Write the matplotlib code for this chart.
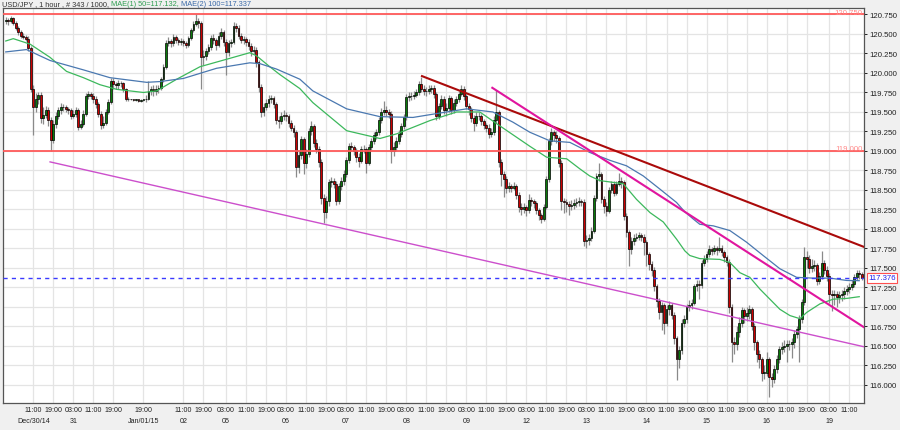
import matplotlib
matplotlib.use('Agg')
import matplotlib.pyplot as plt
from matplotlib.ticker import MultipleLocator, FormatStrFormatter
import numpy as np

plt.rcParams['font.family'] = ['Liberation Sans', 'DejaVu Sans']

# hourly USD/JPY bars (bar index 0 = Dec 30 00:00)
first_open = 120.66
closes = [
    120.68, 120.66, 120.70, 120.64, 120.58, 120.52, 120.48, 120.46, 120.44, 120.32,
    119.80, 119.56, 119.66, 119.72, 119.42, 119.46, 119.53, 119.40, 119.14, 119.35,
    119.45, 119.52, 119.56, 119.56, 119.54, 119.52, 119.45, 119.47, 119.52, 119.31,
    119.35, 119.48, 119.71, 119.73, 119.71, 119.67, 119.60, 119.48, 119.33, 119.36,
    119.50, 119.63, 119.90, 119.86, 119.84, 119.87, 119.87, 119.79, 119.67, 119.66,
    119.66, 119.65, 119.66, 119.64, 119.65, 119.66, 119.67, 119.77, 119.79, 119.77,
    119.79, 119.81, 119.92, 120.08, 120.39, 120.41, 120.38, 120.46, 120.42, 120.40,
    120.41, 120.38, 120.36, 120.45, 120.55, 120.63, 120.66, 120.64, 120.20, 120.22,
    120.28, 120.33, 120.45, 120.42, 120.36, 120.47, 120.52, 120.40, 120.27, 120.38,
    120.40, 120.60, 120.58, 120.48, 120.42, 120.43, 120.40, 120.35, 120.28, 120.30,
    120.14, 119.82, 119.50, 119.56, 119.62, 119.67, 119.68, 119.60, 119.40, 119.38,
    119.45, 119.46, 119.45, 119.36, 119.30, 119.24, 118.80, 118.95, 119.15, 118.84,
    118.96, 119.25, 119.32, 119.10, 119.03, 118.86, 118.40, 118.22, 118.36, 118.60,
    118.62, 118.58, 118.36, 118.55, 118.62, 118.70, 118.88, 119.07, 119.05, 119.00,
    118.92, 118.87, 119.03, 119.02, 118.85, 119.05, 119.13, 119.20, 119.24, 119.40,
    119.50, 119.52, 119.50, 119.48, 119.00, 119.05, 119.13, 119.22, 119.32, 119.43,
    119.69, 119.71, 119.70, 119.72, 119.75, 119.86, 119.80, 119.77, 119.77, 119.79,
    119.81, 119.73, 119.45, 119.58, 119.67, 119.52, 119.55, 119.68, 119.52, 119.62,
    119.67, 119.73, 119.79, 119.70, 119.58, 119.54, 119.42, 119.36, 119.45, 119.45,
    119.38, 119.33, 119.30, 119.22, 119.24, 119.40, 119.50, 118.86, 118.70, 118.64,
    118.52, 118.55, 118.53, 118.55, 118.44, 118.28, 118.26, 118.28, 118.24, 118.37,
    118.36, 118.33, 118.24, 118.18, 118.13, 118.28, 118.64, 119.13, 119.24, 119.20,
    119.16, 118.85, 118.36, 118.34, 118.32, 118.29, 118.31, 118.33, 118.35, 118.36,
    118.35, 117.84, 117.86, 117.88, 117.98, 118.40, 118.68, 118.70, 118.38, 118.30,
    118.23, 118.50, 118.58, 118.46, 118.58, 118.62, 118.60, 118.17, 117.96, 117.74,
    117.85, 117.88, 117.90, 117.92, 117.90, 117.83, 117.68, 117.55, 117.48, 117.27,
    117.08, 116.93, 117.02, 116.80, 116.98, 117.02, 116.90, 116.60, 116.33, 116.45,
    116.80, 116.85, 117.00, 117.02, 117.05, 117.27, 117.30, 117.28, 117.57, 117.62,
    117.68, 117.74, 117.72, 117.75, 117.73, 117.76, 117.70, 117.64, 117.58, 117.00,
    116.55, 116.52, 116.68, 116.80, 116.96, 116.88, 116.92, 116.98, 116.76, 116.55,
    116.40, 116.33, 116.16, 116.16, 116.33, 116.10, 116.08, 116.20, 116.33, 116.46,
    116.49, 116.50, 116.52, 116.52, 116.55, 116.66, 116.72, 116.85, 117.06, 117.64,
    117.62, 117.50, 117.52, 117.54, 117.33, 117.40, 117.56, 117.48, 117.40, 117.17,
    117.15, 117.17, 117.13, 117.15, 117.17, 117.21, 117.23, 117.26, 117.30, 117.38,
    117.44, 117.42, 117.376,
]
highs = [
    120.72, 120.71, 120.73, 120.72, 120.67, 120.60, 120.55, 120.51, 120.49, 120.47,
    120.35, 119.85, 119.74, 119.76, 119.75, 119.56, 119.58, 119.57, 119.43, 119.40,
    119.50, 119.56, 119.61, 119.60, 119.59, 119.57, 119.55, 119.52, 119.57, 119.55,
    119.40, 119.52, 119.74, 119.77, 119.76, 119.74, 119.70, 119.63, 119.51, 119.45,
    119.54, 119.66, 119.93, 119.93, 119.89, 119.91, 119.90, 119.89, 119.81, 119.69,
    119.67, 119.67, 119.67, 119.66, 119.66, 119.67, 119.72, 119.90, 119.83, 119.85,
    119.84, 119.85, 119.95, 120.11, 120.42, 120.46, 120.44, 120.50, 120.49, 120.45,
    120.45, 120.44, 120.41, 120.48, 120.58, 120.66, 120.76, 120.70, 120.67, 120.30,
    120.32, 120.37, 120.49, 120.50, 120.45, 120.53, 120.58, 120.55, 120.43, 120.42,
    120.44, 120.65, 120.64, 120.61, 120.51, 120.47, 120.46, 120.43, 120.38, 120.34,
    120.33, 120.17, 119.86, 119.62, 119.67, 119.72, 119.72, 119.71, 119.63, 119.45,
    119.50, 119.52, 119.50, 119.48, 119.40, 119.33, 119.27, 119.00, 119.19, 119.18,
    119.02, 119.29, 119.38, 119.34, 119.15, 119.07, 118.90, 118.45, 118.42, 118.64,
    118.66, 118.65, 118.62, 118.59, 118.67, 118.75, 118.92, 119.10, 119.11, 119.08,
    119.04, 118.97, 119.07, 119.08, 119.05, 119.09, 119.17, 119.24, 119.28, 119.44,
    119.55, 119.64, 119.58, 119.54, 119.51, 119.12, 119.18, 119.27, 119.36, 119.47,
    119.73, 119.76, 119.75, 119.77, 119.79, 119.90, 119.95, 119.84, 119.82, 119.84,
    119.85, 119.84, 119.76, 119.62, 119.72, 119.70, 119.62, 119.72, 119.70, 119.67,
    119.71, 119.77, 119.85, 119.83, 119.73, 119.62, 119.57, 119.46, 119.50, 119.50,
    119.48, 119.41, 119.36, 119.34, 119.30, 119.45, 119.78, 119.53, 118.90, 118.74,
    118.68, 118.60, 118.58, 118.60, 118.58, 118.47, 118.33, 118.33, 118.31, 118.45,
    118.41, 118.39, 118.36, 118.27, 118.21, 118.32, 118.68, 119.17, 119.30, 119.27,
    119.25, 119.19, 118.88, 118.40, 118.38, 118.36, 118.37, 118.38, 118.40, 118.41,
    118.39, 118.38, 117.92, 117.93, 118.03, 118.44, 118.72, 118.85, 118.73, 118.42,
    118.35, 118.54, 118.62, 118.61, 118.62, 118.72, 118.66, 118.63, 118.20, 117.99,
    117.90, 117.93, 117.95, 117.96, 117.95, 117.93, 117.86, 117.71, 117.59, 117.51,
    117.30, 117.12, 117.07, 117.05, 117.02, 117.08, 117.05, 116.93, 116.63, 116.50,
    116.84, 116.90, 117.04, 117.09, 117.10, 117.30, 117.35, 117.34, 117.60, 117.66,
    117.72, 117.79, 117.77, 117.80, 117.78, 117.90, 117.80, 117.73, 117.67, 117.61,
    117.04, 116.62, 116.75, 116.87, 117.00, 116.99, 117.00, 117.03, 117.00, 116.80,
    116.58, 116.45, 116.36, 116.25, 116.42, 116.36, 116.16, 116.25, 116.38, 116.50,
    116.55, 116.58, 116.58, 116.58, 116.60, 116.70, 116.76, 116.90, 117.10, 117.77,
    117.72, 117.66, 117.62, 117.60, 117.57, 117.45, 117.72, 117.60, 117.52, 117.43,
    117.22, 117.22, 117.20, 117.21, 117.22, 117.26, 117.28, 117.31, 117.35, 117.42,
    117.48, 117.47, 117.45,
]
lows = [
    120.63, 120.62, 120.64, 120.61, 120.55, 120.49, 120.45, 120.43, 120.41, 120.28,
    119.75, 119.20, 119.50, 119.60, 119.36, 119.35, 119.42, 119.32, 119.00, 119.10,
    119.30, 119.41, 119.48, 119.51, 119.50, 119.47, 119.41, 119.42, 119.44, 119.27,
    119.28, 119.32, 119.45, 119.66, 119.66, 119.62, 119.55, 119.44, 119.28, 119.29,
    119.33, 119.47, 119.60, 119.80, 119.79, 119.80, 119.82, 119.75, 119.64, 119.64,
    119.65, 119.64, 119.64, 119.63, 119.63, 119.64, 119.63, 119.65, 119.72, 119.70,
    119.72, 119.74, 119.78, 119.89, 120.05, 120.35, 120.33, 120.35, 120.38, 120.36,
    120.36, 120.34, 120.32, 120.33, 120.42, 120.52, 120.60, 120.58, 119.80, 120.10,
    120.16, 120.24, 120.30, 120.37, 120.30, 120.33, 120.43, 120.35, 119.97, 120.22,
    120.33, 120.37, 120.53, 120.44, 120.38, 120.37, 120.35, 120.30, 120.22, 120.24,
    120.08, 119.76, 119.44, 119.45, 119.52, 119.57, 119.62, 119.55, 119.34, 119.30,
    119.34, 119.40, 119.38, 119.31, 119.25, 119.18, 118.67, 118.72, 118.90, 118.70,
    118.78, 118.92, 119.20, 119.05, 118.97, 118.80, 118.32, 118.08, 118.14, 118.30,
    118.54, 118.52, 118.31, 118.32, 118.50, 118.57, 118.66, 118.84, 119.00, 118.95,
    118.86, 118.80, 118.84, 118.97, 118.72, 118.82, 119.01, 119.09, 119.15, 119.20,
    119.36, 119.46, 119.45, 119.42, 118.85, 118.94, 119.00, 119.09, 119.18, 119.28,
    119.40, 119.64, 119.65, 119.66, 119.69, 119.72, 119.76, 119.72, 119.71, 119.73,
    119.74, 119.68, 119.40, 119.41, 119.54, 119.47, 119.45, 119.50, 119.48, 119.49,
    119.58, 119.63, 119.70, 119.65, 119.54, 119.46, 119.37, 119.25, 119.32, 119.40,
    119.33, 119.28, 119.24, 119.17, 119.18, 119.20, 119.36, 118.80, 118.55, 118.41,
    118.46, 118.48, 118.48, 118.50, 118.39, 118.22, 118.18, 118.20, 118.17, 118.20,
    118.30, 118.27, 118.19, 118.12, 118.08, 118.10, 118.25, 118.60, 119.08, 119.13,
    119.10, 118.80, 118.24, 118.20, 118.22, 118.18, 118.24, 118.26, 118.28, 118.30,
    118.29, 117.78, 117.76, 117.80, 117.84, 117.95, 118.36, 118.62, 118.33, 118.20,
    118.16, 118.20, 118.46, 118.42, 118.43, 118.55, 118.52, 118.12, 117.90, 117.53,
    117.68, 117.80, 117.84, 117.86, 117.84, 117.66, 117.53, 117.48, 117.40, 117.20,
    117.00, 116.85, 116.70, 116.65, 116.75, 116.90, 116.84, 116.52, 116.07, 116.22,
    116.40, 116.74, 116.80, 116.95, 116.97, 117.02, 117.20, 117.10, 117.24, 117.52,
    117.58, 117.64, 117.66, 117.68, 117.67, 117.70, 117.65, 117.58, 117.52, 116.92,
    116.30, 116.40, 116.45, 116.62, 116.74, 116.80, 116.82, 116.85, 116.70, 116.45,
    116.30, 116.22, 116.05, 116.08, 116.12, 115.84, 115.98, 116.02, 116.15, 116.28,
    116.40, 116.42, 116.30, 116.45, 116.35, 116.48, 116.60, 116.30, 116.80, 117.02,
    117.50, 117.44, 117.45, 117.46, 117.28, 117.30, 117.36, 117.42, 117.33, 117.05,
    116.95, 117.02, 117.00, 117.05, 117.08, 117.10, 117.15, 117.18, 117.22, 117.26,
    117.34, 117.36, 117.34,
]

# moving averages, read as vertices (bar position, price)
ema50_x = [0, 3, 9.7, 17.7, 24.3, 31, 37.6, 44.3, 55, 60.3, 68.3, 77.6, 90.9, 97.5,
           100.2, 105.5, 109.5, 117.5, 122.7, 136.2, 149.5, 156.2, 169.5, 180.1,
           189.4, 197.5, 209.4, 216.1, 224.1, 229.4, 233.3, 237.4, 246.7, 252,
           257.4, 262.7, 268, 271.3, 273.3, 277.3, 285.3, 289.3, 293.3, 297.3,
           301.3, 305.3, 309.3, 313.3, 317.3, 320, 325.3, 330.6, 336, 341]
ema50_y = [120.41, 120.44, 120.37, 120.20, 120.02, 119.94, 119.85, 119.79, 119.75,
           119.77, 119.92, 120.08, 120.20, 120.26, 120.22, 120.08, 119.98, 119.80,
           119.62, 119.26, 119.16, 119.22, 119.39, 119.50, 119.50, 119.32, 119.06,
           118.92, 118.90, 118.77, 118.68, 118.62, 118.58, 118.38, 118.21, 118.09,
           117.87, 117.72, 117.66, 117.62, 117.61, 117.57, 117.44, 117.38, 117.23,
           117.10, 116.97, 116.89, 116.85, 116.93, 117.04, 117.10, 117.11, 117.132]
ema100_x = [0, 8.3, 17.7, 31, 41.6, 56.3, 61.6, 71, 84.2, 97.5, 101.5, 108.2, 117.5,
            122.7, 136.2, 149.5, 162.7, 176.1, 184.1, 194.6, 202.6, 209.4, 217.4,
            225.4, 233.4, 241.4, 248, 254.7, 261.4, 268, 271.3, 274.6, 277.3, 282.7,
            289.3, 296, 302.6, 309.3, 316, 322.5, 329.3, 336, 341]
ema100_y = [120.27, 120.30, 120.16, 120.04, 119.94, 119.88, 119.89, 119.93, 120.06,
            120.13, 120.12, 120.05, 119.92, 119.77, 119.54, 119.44, 119.43, 119.50,
            119.54, 119.50, 119.37, 119.24, 119.13, 119.11, 118.98, 118.88, 118.81,
            118.68, 118.51, 118.34, 118.22, 118.13, 118.06, 118.04, 117.98, 117.83,
            117.66, 117.49, 117.38, 117.37, 117.37, 117.34, 117.337]

# drawn trendlines: (start bar, start price, end bar, end price)
trend_upper = [166.3, 119.96, 342.9, 117.77]
trend_steep = [194.4, 119.81, 342.9, 116.74]
trend_lower = [17.7, 118.86, 342.9, 116.49]
levels = [120.75, 119.0]
last_price = 117.376

tick_pos = [11, 19, 27, 35, 43, 55, 71, 79, 88, 96, 104, 112, 120, 128, 136, 144,
            152, 160, 168, 176, 184, 192, 200, 208, 216, 224, 232, 240, 248, 256,
            264, 272, 280, 288, 296, 304, 312, 320, 329, 337]
tick_lab = ['11:00', '19:00', '03:00', '11:00', '19:00', '19:00', '11:00', '19:00',
            '03:00', '11:00', '19:00', '03:00', '11:00', '19:00', '03:00', '11:00',
            '19:00', '03:00', '11:00', '19:00', '03:00', '11:00', '19:00', '03:00',
            '11:00', '19:00', '03:00', '11:00', '19:00', '03:00', '11:00', '19:00',
            '03:00', '11:00', '19:00', '03:00', '11:00', '19:00', '03:00', '11:00']
day_pos = [11, 27, 55, 71, 88, 112, 136, 160, 184, 208, 232, 256, 280, 304, 329]
day_lab = ['Dec/30/14', '31', 'Jan/01/15', '02', '05', '06', '07', '08', '09',
           '12', '13', '14', '15', '16', '19']

title_parts = ['USD/JPY , 1 hour , # 343 / 1000, ', 'MAE(1) 50=117.132, ',
               'MAE(2) 100=117.337']
title_cols = ['#333333', '#2e9e50', '#3a6aa8']

closes = np.array(closes)
opens = np.concatenate([[first_open], closes[:-1]])
x = np.arange(len(closes))

fig = plt.figure(figsize=(9, 4.31), dpi=100, facecolor='#f0f0f0')
ax = fig.add_axes([3 / 900, 27 / 431, 861 / 900, 395 / 431])
ax.set_facecolor('white')

# grid
ax.set_xticks(tick_pos)
ax.set_xticklabels(tick_lab)
ax.yaxis.set_major_locator(MultipleLocator(0.25))
ax.yaxis.set_major_formatter(FormatStrFormatter('%.3f'))
ax.grid(True, color='#e4e4e4', lw=0.9, zorder=0)

# candles
ax.vlines(x, lows, highs, color='#8a8a8a', lw=0.9, zorder=2)
up = closes >= opens
body_col = np.where(up, '#0a7a0a', '#cc0000')
height = closes - opens
height = np.where(np.abs(height) < 0.004, 0.004, height)
ax.bar(x, height, bottom=opens, width=0.72, color=body_col, edgecolor='black',
       linewidth=0.5, zorder=3)

# moving averages
ax.plot(ema50_x, ema50_y, color='#3cb85c', lw=0.9, zorder=4)
ax.plot(ema100_x, ema100_y, color='#4a78b0', lw=0.9, zorder=4)

# horizontal levels
for lv in levels:
    ax.axhline(lv, color='#ff5a5a', lw=1.3, zorder=4)
    ax.annotate('%.3f' % lv, xy=(1, lv), xycoords=('axes fraction', 'data'),
                xytext=(-1, 0.5), textcoords='offset points', ha='right',
                va='baseline', fontsize=5.6, color='#ff8a8a', zorder=5)

ax.axhline(last_price, color='#3a3aff', lw=1.0, ls=(0, (3, 3)), zorder=4)

# trendlines
ax.plot(trend_upper[0::2], trend_upper[1::2], color='#aa0a0a', lw=1.5, zorder=5)
ax.plot(trend_steep[0::2], trend_steep[1::2], color='#e0159e', lw=1.5, zorder=5)
ax.plot(trend_lower[0::2], trend_lower[1::2], color='#cc4fcc', lw=1.0, zorder=5)

ax.set_xlim(-1.1, 342.9)
ax.set_ylim(115.769, 120.833)

# axes styling
ax.yaxis.tick_right()
ax.tick_params(axis='y', which='both', length=2.5, width=0.7, pad=1,
               labelsize=5.6, colors='#222222')
ax.tick_params(axis='x', length=0, pad=2.5, labelsize=5.1, labelcolor='#222222')
for s in ax.spines.values():
    s.set_color('#555555')
    s.set_linewidth(0.9)

for p, lab in zip(day_pos, day_lab):
    ax.annotate(lab, xy=(p, 0), xycoords=('data', 'axes fraction'),
                xytext=(0, -12.5), textcoords='offset points', ha='center',
                va='center', fontsize=5.1, color='#222222', annotation_clip=False)

ax.annotate('%.3f' % last_price, xy=(1, last_price),
            xycoords=('axes fraction', 'data'), xytext=(3.2, 0),
            textcoords='offset points', ha='left', va='center', fontsize=5.6,
            color='#2020ee', annotation_clip=False,
            bbox=dict(boxstyle='square,pad=0.18', fc='white', ec='#ff5050', lw=0.8))

# title, written piece by piece in its colours
renderer = fig.canvas.get_renderer()
tx = 2 / 900
for part, col in zip(title_parts, title_cols):
    t = fig.text(tx, 1 - 4.8 / 431, part, fontsize=5.3, color=col,
                 va='center', ha='left')
    bb = t.get_window_extent(renderer=renderer)
    tx = bb.x1 / fig.bbox.width

fig.savefig('out.png', dpi=100, facecolor=fig.get_facecolor())
